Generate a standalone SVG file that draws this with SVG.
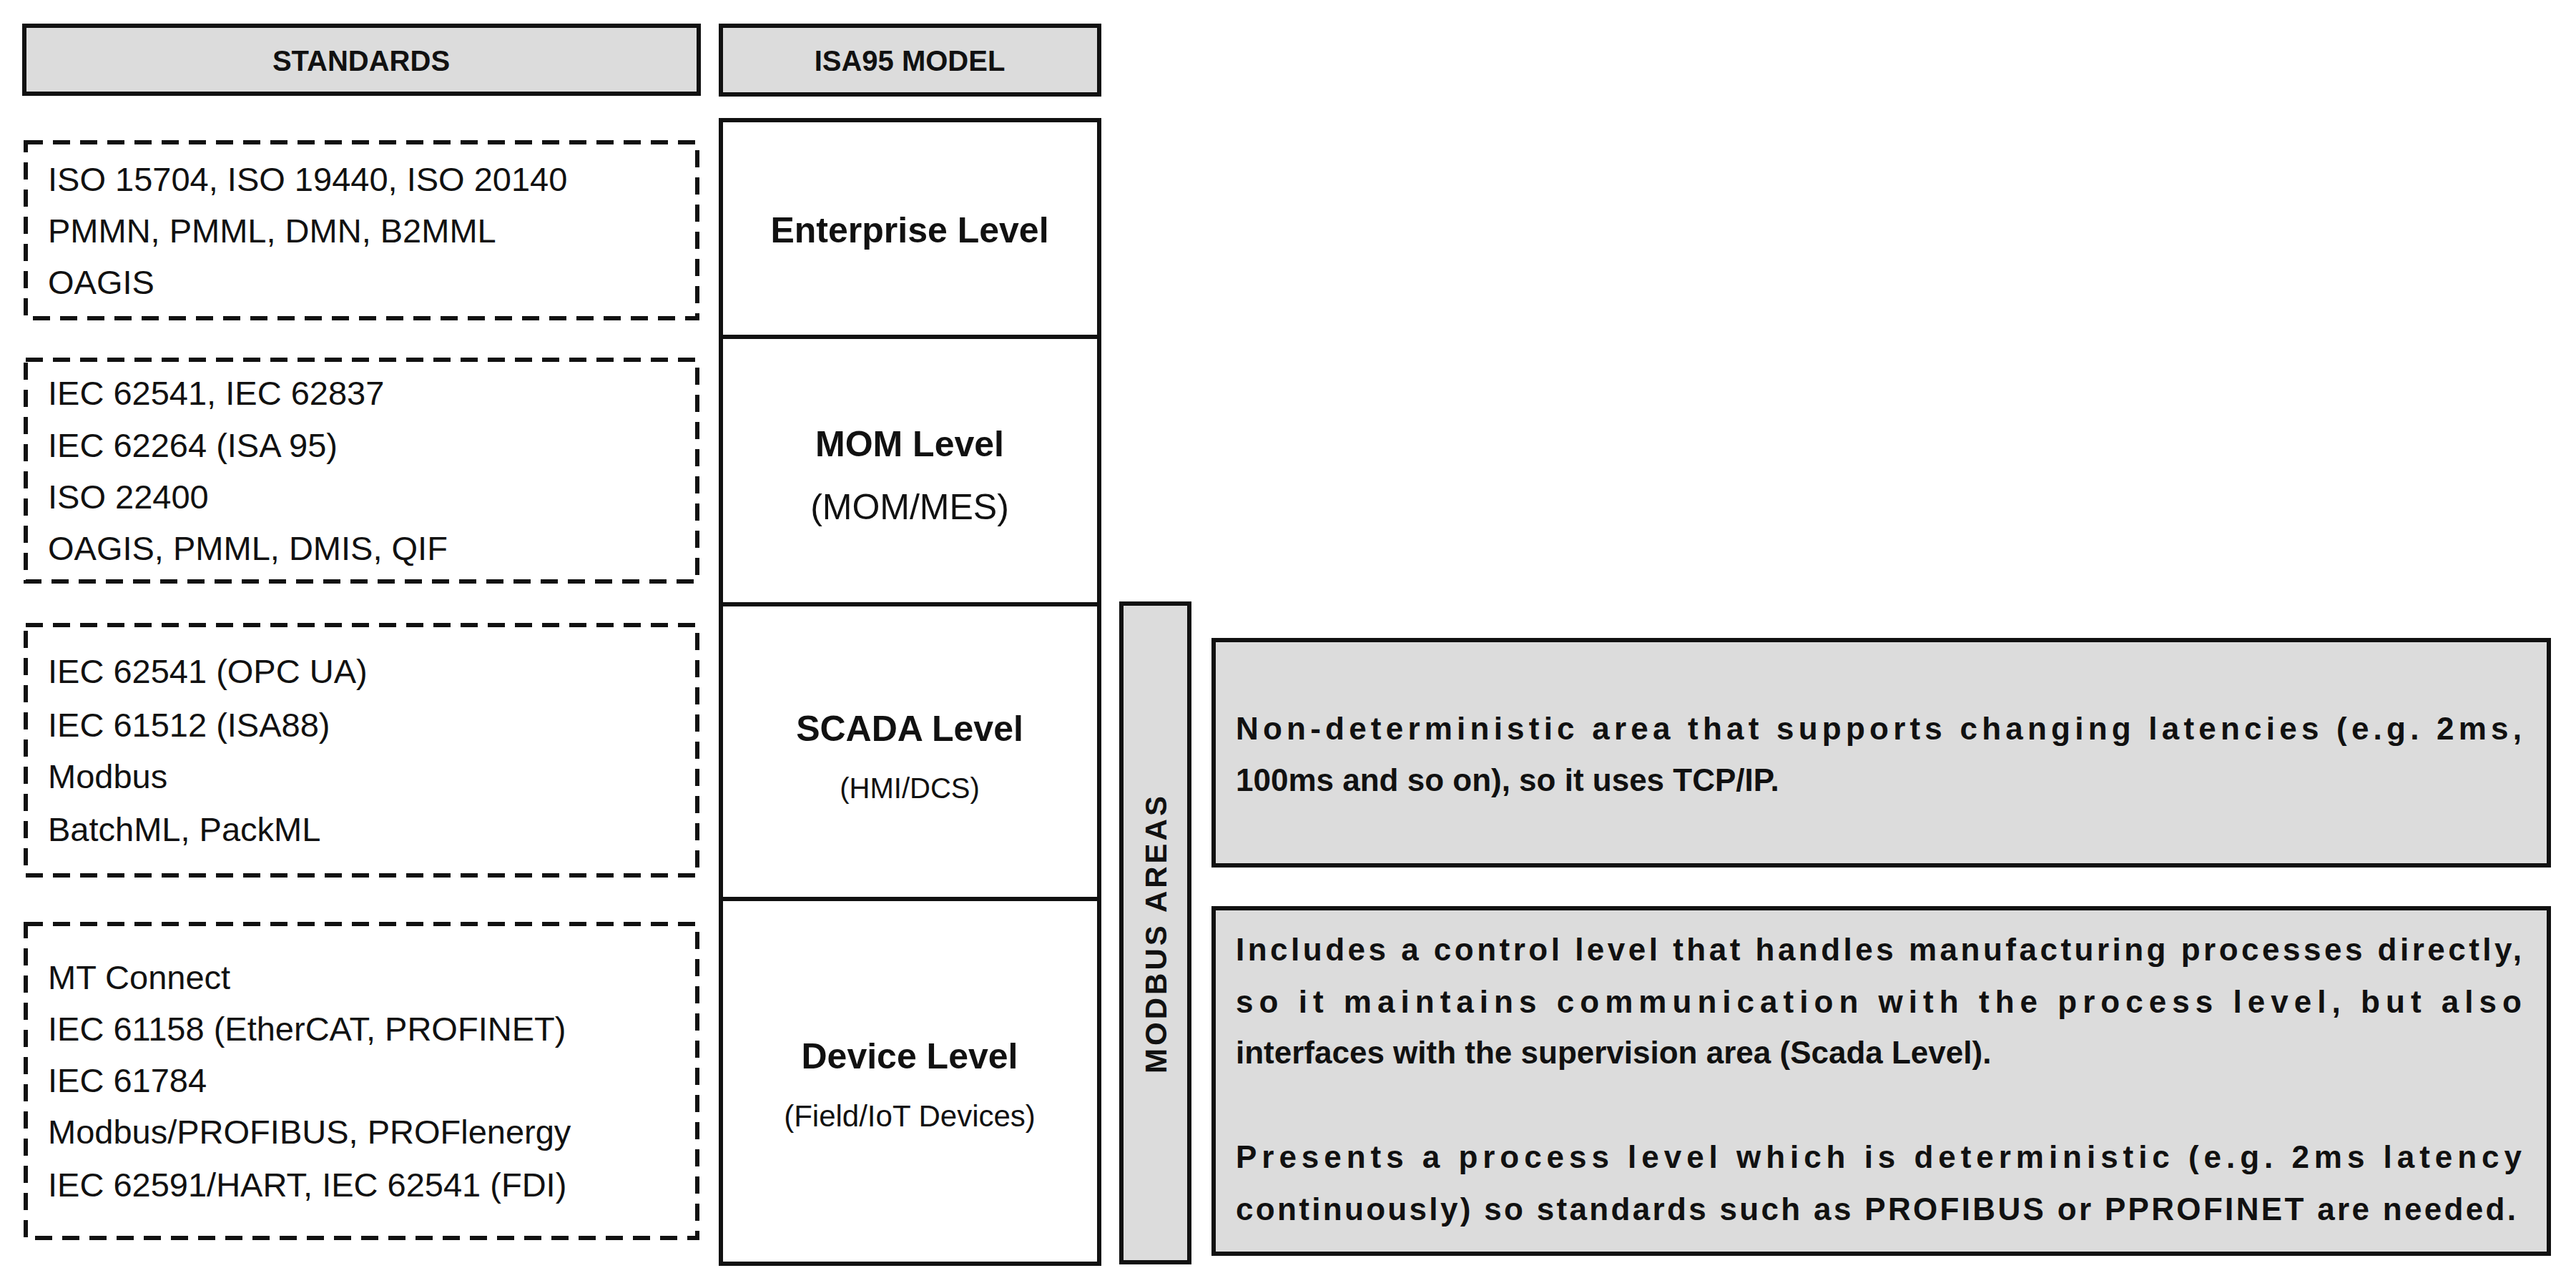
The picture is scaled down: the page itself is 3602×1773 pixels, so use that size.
<svg xmlns="http://www.w3.org/2000/svg" width="3602" height="1773" viewBox="0 0 3602 1773">
<style>
text{font-family:"Liberation Sans",Arial,sans-serif;fill:#111}
.hdr{fill:#dcdcdc;stroke:#111;stroke-width:6}
.lvl{fill:#fff;stroke:#111;stroke-width:6}
.dash{fill:none;stroke:#111;stroke-width:6;stroke-dasharray:24 14}
.std{font-size:47px}
.b{font-weight:bold}
.mid{text-anchor:middle}
.g{font-size:44px;font-weight:bold}
</style>
<rect width="3602" height="1773" fill="#fff"/>
<g id="hdr-standards"><rect class="hdr" x="34" y="36" width="943" height="95"/><text class="b mid" x="505" y="99" font-size="40">STANDARDS</text></g>
<g id="hdr-isa"><rect class="hdr" x="1008" y="36" width="529" height="96"/><text class="b mid" x="1272" y="99" font-size="40">ISA95 MODEL</text></g>
<g id="std-enterprise"><rect class="dash" x="36" y="199" width="939" height="246"/>
<text class="std" x="67" y="267">ISO 15704, ISO 19440, ISO 20140</text>
<text class="std" x="67" y="339">PMMN, PMML, DMN, B2MML</text>
<text class="std" x="67" y="411">OAGIS</text></g>
<g id="std-mom"><rect class="dash" x="36" y="503" width="939" height="310"/>
<text class="std" x="67" y="566">IEC 62541, IEC 62837</text>
<text class="std" x="67" y="639">IEC 62264 (ISA 95)</text>
<text class="std" x="67" y="711">ISO 22400</text>
<text class="std" x="67" y="783">OAGIS, PMML, DMIS, QIF</text></g>
<g id="std-scada"><rect class="dash" x="36" y="874" width="939" height="350"/>
<text class="std" x="67" y="955">IEC 62541 (OPC UA)</text>
<text class="std" x="67" y="1030">IEC 61512 (ISA88)</text>
<text class="std" x="67" y="1102">Modbus</text>
<text class="std" x="67" y="1176">BatchML, PackML</text></g>
<g id="std-device"><rect class="dash" x="36" y="1292" width="939" height="439"/>
<text class="std" x="67" y="1383">MT Connect</text>
<text class="std" x="67" y="1455">IEC 61158 (EtherCAT, PROFINET)</text>
<text class="std" x="67" y="1527">IEC 61784</text>
<text class="std" x="67" y="1599">Modbus/PROFIBUS, PROFlenergy</text>
<text class="std" x="67" y="1673">IEC 62591/HART, IEC 62541 (FDI)</text></g>
<g id="lvl-enterprise"><rect class="lvl" x="1008" y="168" width="529" height="303"/><text class="b mid" x="1272" y="339" font-size="50">Enterprise Level</text></g>
<g id="lvl-mom"><rect class="lvl" x="1008" y="471" width="529" height="374"/><text class="b mid" x="1272" y="638" font-size="50">MOM Level</text><text class="mid" x="1272" y="726" font-size="50">(MOM/MES)</text></g>
<g id="lvl-scada"><rect class="lvl" x="1008" y="845" width="529" height="412"/><text class="b mid" x="1272" y="1036" font-size="50">SCADA Level</text><text class="mid" x="1272" y="1116" font-size="40">(HMI/DCS)</text></g>
<g id="lvl-device"><rect class="lvl" x="1008" y="1257" width="529" height="510"/><text class="b mid" x="1272" y="1494" font-size="50">Device Level</text><text class="mid" x="1272" y="1575" font-size="42">(Field/IoT Devices)</text></g>
<g id="modbus-areas"><rect class="hdr" x="1568" y="844" width="95" height="921"/><text class="b mid" transform="translate(1631 1305) rotate(-90)" font-size="42" letter-spacing="4">MODBUS AREAS</text></g>
<g id="area-nondet"><rect class="hdr" x="1697" y="895" width="1867" height="315"/>
<text class="g" x="1728" y="1034" textLength="1798" lengthAdjust="spacing">Non-deterministic area that supports changing latencies (e.g. 2ms,</text>
<text class="g" x="1728" y="1106">100ms and so on), so it uses TCP/IP.</text></g>
<g id="area-det"><rect class="hdr" x="1697" y="1270" width="1867" height="483"/>
<text class="g" x="1728" y="1343" textLength="1798" lengthAdjust="spacing">Includes a control level that handles manufacturing processes directly,</text>
<text class="g" x="1728" y="1416" textLength="1798" lengthAdjust="spacing">so it maintains communication with the process level, but also</text>
<text class="g" x="1728" y="1487">interfaces with the supervision area (Scada Level).</text>
<text class="g" x="1728" y="1633" textLength="1798" lengthAdjust="spacing">Presents a process level which is deterministic (e.g. 2ms latency</text>
<text class="g" x="1728" y="1706" textLength="1790" lengthAdjust="spacing">continuously) so standards such as PROFIBUS or PPROFINET are needed.</text></g>
<g id="connectors"></g>
</svg>
